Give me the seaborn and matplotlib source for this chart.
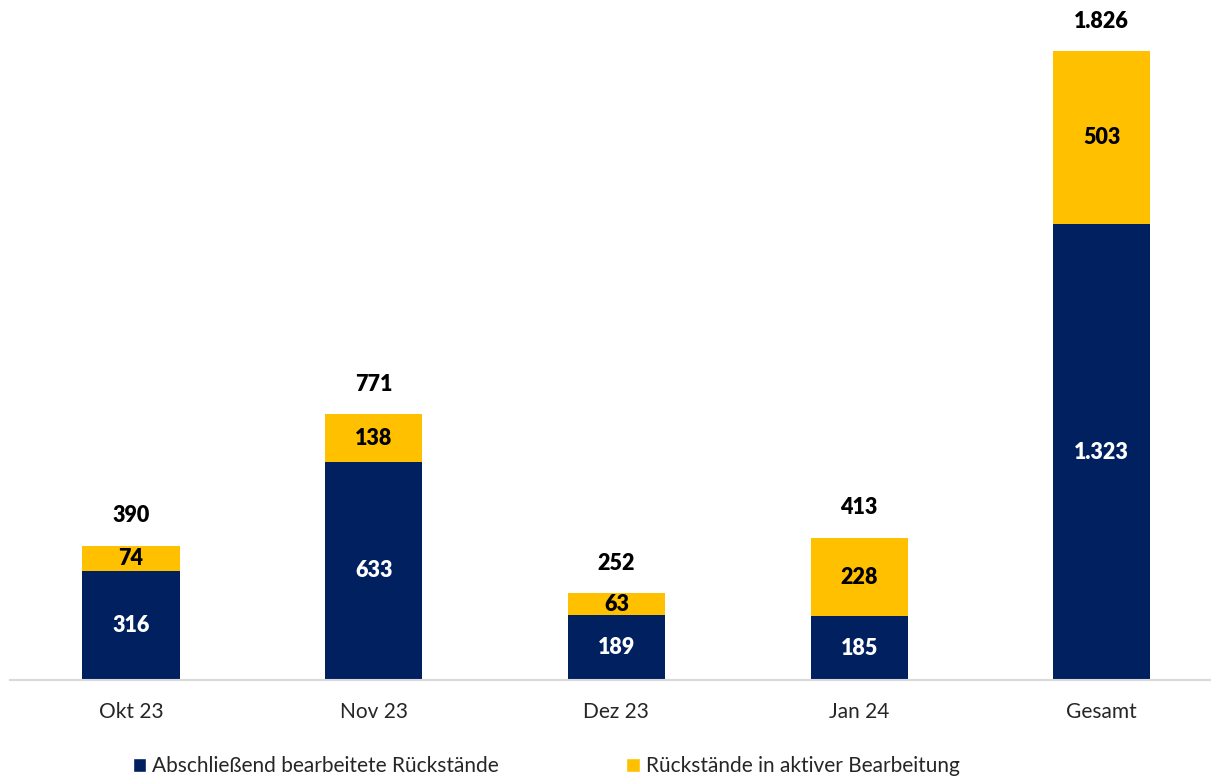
import seaborn as sns
import matplotlib.pyplot as plt
import pandas as pd
from matplotlib.patches import Patch

categories = ["Okt 23", "Nov 23", "Dez 23", "Jan 24", "Gesamt"]
abgeschlossen = [316, 633, 189, 185, 1323]
in_bearbeitung = [74, 138, 63, 228, 503]
series_names = ["Abschließend bearbeitete Rückstände", "Rückstände in aktiver Bearbeitung"]

NAVY = "#002060"
GOLD = "#FFC000"


def fmt(v):
    return "{:,}".format(v).replace(",", ".")


totals = [a + b for a, b in zip(abgeschlossen, in_bearbeitung)]
df = pd.DataFrame({"kategorie": categories, "unten": abgeschlossen,
                   "oben": in_bearbeitung, "gesamt": totals})

sns.set_theme(style="white")
plt.rcParams["font.family"] = ["Lato", "DejaVu Sans"]

fig = plt.figure(figsize=(12.11, 7.79), dpi=100)
ax = fig.add_axes([0.008, 1 - 680 / 779, 0.992, 660 / 779])

# gold full stack first, then navy bottom part over it
sns.barplot(data=df, x="kategorie", y="gesamt", color=GOLD, saturation=1,
            width=0.4, linewidth=0, edgecolor="none", ax=ax)
sns.barplot(data=df, x="kategorie", y="unten", color=NAVY, saturation=1,
            width=0.4, linewidth=0, edgecolor="none", ax=ax)

for i, (a, b, t) in enumerate(zip(abgeschlossen, in_bearbeitung, totals)):
    ax.text(i, a / 2, fmt(a), ha="center", va="center", color="white",
            fontsize=15.5, fontweight="heavy")
    ax.text(i, a + b / 2, fmt(b), ha="center", va="center", color="black",
            fontsize=15.5, fontweight="heavy")
    ax.text(i, t + 87, fmt(t), ha="center", va="center", color="black",
            fontsize=15.5, fontweight="heavy")

ax.set_xlim(-0.5, 4.45)
ax.set_ylim(0, 1916)
ax.set_xlabel("")
ax.set_ylabel("")
ax.set_yticks([])
ax.tick_params(axis="x", length=0, pad=16, labelsize=15, colors="#262626")
for side in ["top", "left", "right"]:
    ax.spines[side].set_visible(False)
ax.spines["bottom"].set_color("#D9D9D9")
ax.spines["bottom"].set_linewidth(1.5)

handles = [Patch(facecolor=NAVY, label=series_names[0]),
           Patch(facecolor=GOLD, label=series_names[1])]
fig.legend(handles=handles, loc="center", bbox_to_anchor=(0.451, 1 - 766 / 779),
           ncol=2, frameon=False, fontsize=15, handlelength=0.65,
           handleheight=0.65, handletextpad=0.3, columnspacing=6.1,
           labelcolor="#262626")

fig.savefig("out.png", dpi=100)
